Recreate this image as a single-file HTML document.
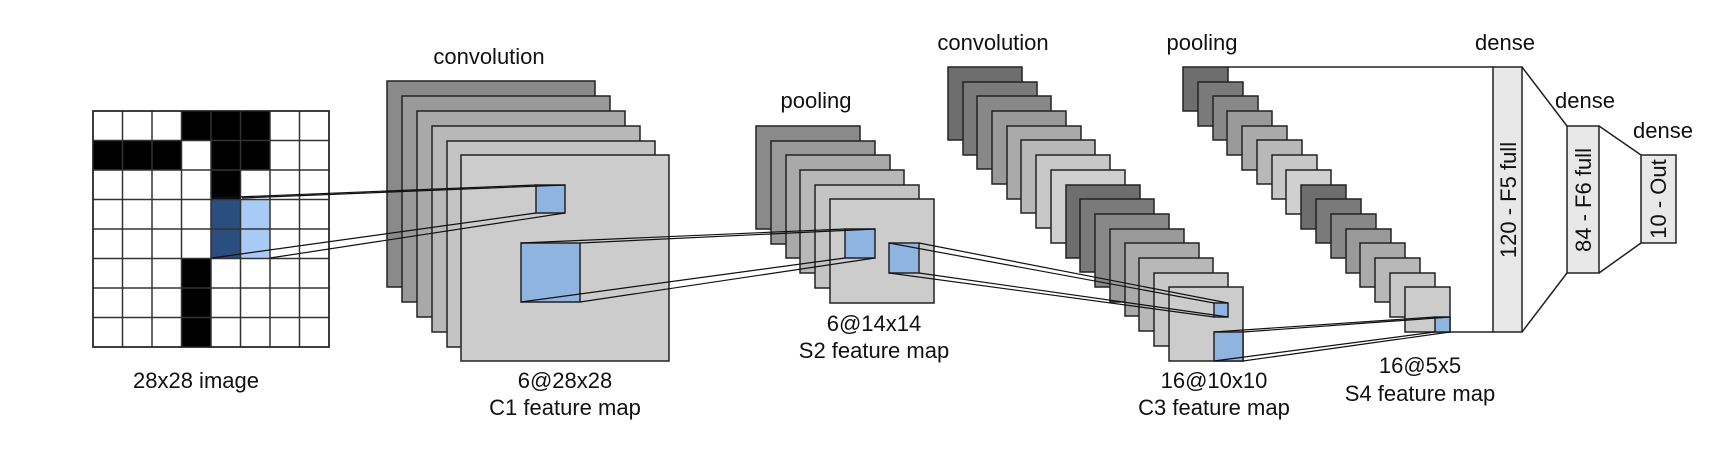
<!DOCTYPE html>
<html><head><meta charset="utf-8"><style>
html,body{margin:0;padding:0;background:#fff;}
svg{display:block;}
text{font-family:"Liberation Sans",sans-serif;font-size:22px;fill:#111;}
</style></head><body>
<svg width="1715" height="468" viewBox="0 0 1715 468" xmlns="http://www.w3.org/2000/svg">
<g stroke="#222" stroke-width="1.5">
<rect x="93" y="111" width="236" height="236" fill="#fff"/>
<g fill="#000" stroke="none">
<rect x="181.5" y="111" width="88.5" height="29.5"/>
<rect x="93" y="140.5" width="88.5" height="29.5"/>
<rect x="211" y="140.5" width="59" height="29.5"/>
<rect x="211" y="170" width="29.5" height="29.5"/>
<rect x="181.5" y="258.5" width="29.5" height="88.5"/>
</g>
<rect x="211" y="199" width="29.5" height="59" fill="#2a4e7e" stroke="none"/>
<rect x="240.5" y="199" width="29.5" height="59" fill="#a8cbf5" stroke="none"/>
<g stroke="#333" stroke-width="1.5">
<line x1="122.5" y1="111" x2="122.5" y2="347"/><line x1="152" y1="111" x2="152" y2="347"/>
<line x1="181.5" y1="111" x2="181.5" y2="347"/><line x1="211" y1="111" x2="211" y2="347"/>
<line x1="240.5" y1="111" x2="240.5" y2="347"/><line x1="270" y1="111" x2="270" y2="347"/>
<line x1="299.5" y1="111" x2="299.5" y2="347"/>
<line x1="93" y1="140.5" x2="329" y2="140.5"/><line x1="93" y1="170" x2="329" y2="170"/>
<line x1="93" y1="199.5" x2="329" y2="199.5"/><line x1="93" y1="229" x2="329" y2="229"/>
<line x1="93" y1="258.5" x2="329" y2="258.5"/><line x1="93" y1="288" x2="329" y2="288"/>
<line x1="93" y1="317.5" x2="329" y2="317.5"/>
</g>
<rect x="93" y="111" width="236" height="236" fill="none"/>

<rect x="387" y="81" width="208" height="206" fill="#8a8a8a"/>
<rect x="402" y="96" width="208" height="206" fill="#999"/>
<rect x="417" y="111" width="208" height="206" fill="#a9a9a9"/>
<rect x="432" y="126" width="208" height="206" fill="#b8b8b8"/>
<rect x="447" y="141" width="208" height="206" fill="#c4c4c4"/>
<rect x="461" y="155" width="208" height="206" fill="#cccccc"/>
<rect x="536" y="185" width="29" height="28" fill="#8fb4e0"/>
<rect x="521" y="243" width="59" height="59" fill="#8fb4e0"/>

<rect x="756" y="126" width="104" height="103" fill="#8a8a8a"/>
<rect x="771" y="141" width="104" height="103" fill="#999"/>
<rect x="786" y="155" width="104" height="103" fill="#a9a9a9"/>
<rect x="800" y="170" width="104" height="103" fill="#b8b8b8"/>
<rect x="815" y="185" width="104" height="103" fill="#c4c4c4"/>
<rect x="830" y="199" width="104" height="104" fill="#cccccc"/>
<rect x="845" y="229" width="30" height="29" fill="#8fb4e0"/>
<rect x="889" y="243" width="30" height="30" fill="#8fb4e0"/>

<rect x="948" y="67" width="74" height="73" fill="#6e6e6e"/>
<rect x="963" y="82" width="74" height="73" fill="#7a7a7a"/>
<rect x="977" y="96" width="74" height="73" fill="#888"/>
<rect x="992" y="111" width="74" height="73" fill="#999"/>
<rect x="1007" y="126" width="74" height="73" fill="#aaa"/>
<rect x="1021" y="140" width="74" height="73" fill="#b8b8b8"/>
<rect x="1036" y="155" width="74" height="73" fill="#c8c8c8"/>
<rect x="1051" y="170" width="74" height="73" fill="#d0d0d0"/>
<rect x="1066" y="185" width="74" height="73" fill="#6e6e6e"/>
<rect x="1080" y="199" width="74" height="73" fill="#7a7a7a"/>
<rect x="1095" y="214" width="74" height="73" fill="#888"/>
<rect x="1110" y="229" width="74" height="73" fill="#999"/>
<rect x="1125" y="243" width="74" height="73" fill="#aaa"/>
<rect x="1139" y="258" width="74" height="73" fill="#b8b8b8"/>
<rect x="1154" y="273" width="74" height="73" fill="#c8c8c8"/>
<rect x="1169" y="287" width="74" height="74" fill="#cccccc"/>
<rect x="1214" y="303" width="14" height="14" fill="#8fb4e0"/>
<rect x="1214" y="332" width="29" height="29" fill="#8fb4e0"/>

<rect x="1183" y="67" width="45" height="44" fill="#6e6e6e"/>
<rect x="1198" y="82" width="45" height="44" fill="#7a7a7a"/>
<rect x="1213" y="96" width="45" height="44" fill="#888"/>
<rect x="1227" y="111" width="45" height="44" fill="#999"/>
<rect x="1242" y="126" width="45" height="44" fill="#aaa"/>
<rect x="1257" y="140" width="45" height="44" fill="#b8b8b8"/>
<rect x="1272" y="155" width="45" height="44" fill="#c8c8c8"/>
<rect x="1286" y="170" width="45" height="44" fill="#d0d0d0"/>
<rect x="1301" y="185" width="45" height="44" fill="#6e6e6e"/>
<rect x="1316" y="199" width="45" height="44" fill="#7a7a7a"/>
<rect x="1331" y="214" width="45" height="44" fill="#888"/>
<rect x="1346" y="229" width="45" height="44" fill="#999"/>
<rect x="1360" y="243" width="45" height="44" fill="#aaa"/>
<rect x="1375" y="258" width="45" height="44" fill="#b8b8b8"/>
<rect x="1390" y="273" width="45" height="44" fill="#c8c8c8"/>
<rect x="1405" y="287" width="45" height="45" fill="#cccccc"/>
<rect x="1435" y="317" width="15" height="15" fill="#8fb4e0"/>

<line x1="1228" y1="67" x2="1493" y2="67"/>
<line x1="1450" y1="332" x2="1493" y2="332"/>
<rect x="1493" y="67" width="29" height="265" fill="#e8e8e8"/>
<rect x="1567" y="126" width="32" height="147" fill="#e8e8e8"/>
<rect x="1641" y="155" width="35" height="88" fill="#e8e8e8"/>
<line x1="1522" y1="67" x2="1567" y2="126"/>
<line x1="1522" y1="332" x2="1567" y2="273"/>
<line x1="1599" y1="126" x2="1641" y2="155"/>
<line x1="1599" y1="273" x2="1641" y2="243"/>

<g stroke="#111" stroke-width="1.2">
<line x1="212" y1="198" x2="536" y2="185"/><line x1="242" y1="198" x2="565" y2="185"/>
<line x1="212" y1="258" x2="536" y2="213"/><line x1="270" y1="258" x2="565" y2="213"/>
<line x1="521" y1="243" x2="845" y2="229"/><line x1="580" y1="243" x2="875" y2="229"/>
<line x1="521" y1="302" x2="845" y2="258"/><line x1="580" y1="302" x2="875" y2="258"/>
<line x1="889" y1="243" x2="1214" y2="303"/><line x1="919" y1="243" x2="1228" y2="303"/>
<line x1="889" y1="273" x2="1214" y2="317"/><line x1="919" y1="273" x2="1228" y2="317"/>
<line x1="1214" y1="332" x2="1435" y2="317"/><line x1="1243" y1="332" x2="1450" y2="317"/>
<line x1="1214" y1="361" x2="1435" y2="332"/><line x1="1243" y1="361" x2="1450" y2="332"/>
</g>
</g>

<g text-anchor="middle">
<text x="196" y="388">28x28 image</text>
<text x="489" y="64">convolution</text>
<text x="565" y="388">6@28x28</text>
<text x="565" y="415">C1 feature map</text>
<text x="816" y="108">pooling</text>
<text x="874" y="331">6@14x14</text>
<text x="874" y="358">S2 feature map</text>
<text x="993" y="50">convolution</text>
<text x="1202" y="50">pooling</text>
<text x="1214" y="388">16@10x10</text>
<text x="1214" y="415">C3 feature map</text>
<text x="1420" y="373">16@5x5</text>
<text x="1420" y="401">S4 feature map</text>
<text x="1505" y="50">dense</text>
<text x="1585" y="108">dense</text>
<text x="1663" y="138">dense</text>
<text transform="translate(1516,200) rotate(-90)">120 - F5 full</text>
<text transform="translate(1591,200) rotate(-90)">84 - F6 full</text>
<text transform="translate(1666,199) rotate(-90)">10 - Out</text>
</g>
</svg>
</body></html>
